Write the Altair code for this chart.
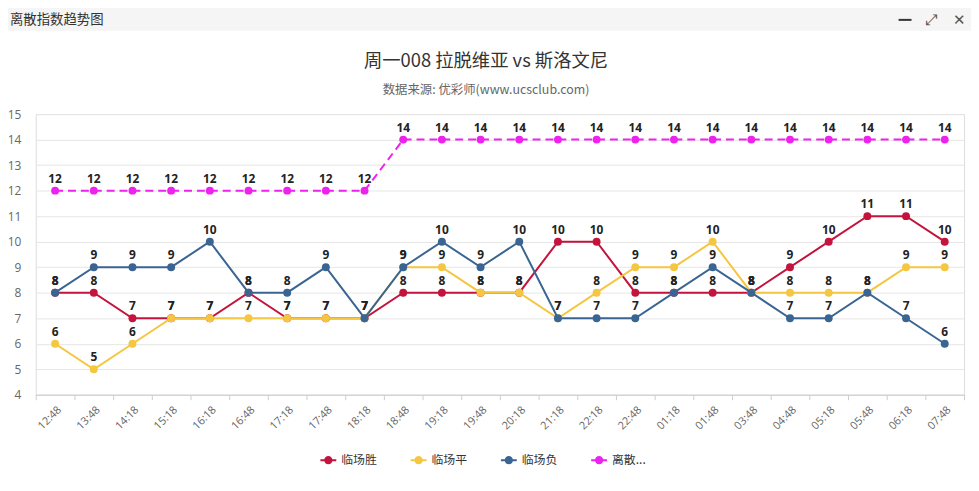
import altair as alt
import pandas as pd

times = ["12:48", "13:48", "14:18", "15:18", "16:18", "16:48", "17:18", "17:48",
         "18:18", "18:48", "19:18", "19:48", "20:18", "21:18", "22:18", "22:48",
         "01:18", "01:48", "03:48", "04:48", "05:18", "05:48", "06:18", "07:48"]
win = [8, 8, 7, 7, 7, 8, 7, 7, 7, 8, 8, 8, 8, 10, 10, 8, 8, 8, 8, 9, 10, 11, 11, 10]
draw = [6, 5, 6, 7, 7, 7, 7, 7, 7, 9, 9, 8, 8, 7, 8, 9, 9, 10, 8, 8, 8, 8, 9, 9]
lose = [8, 9, 9, 9, 10, 8, 8, 9, 7, 9, 10, 9, 10, 7, 7, 7, 8, 9, 8, 7, 7, 8, 7, 6]
disp = [12, 12, 12, 12, 12, 12, 12, 12, 12, 14, 14, 14, 14, 14, 14, 14,
        14, 14, 14, 14, 14, 14, 14, 14]

series_names = ["临场胜", "临场平", "临场负", "离散指数"]
series_values = [win, draw, lose, disp]
colors = ["#c4143d", "#f5c640", "#3a6592", "#ee22ee"]

title_text = "周一008 拉脱维亚 vs 斯洛文尼"
subtitle_text = "数据来源: 优彩师(www.ucsclub.com)"
window_title = "离散指数趋势图"

rows = []
for name, vals in zip(series_names, series_values):
    for t, v in zip(times, vals):
        rows.append({"series": name, "time": t, "value": v})
df = pd.DataFrame(rows)

FONT = "Noto Sans CJK SC"
legend_path = ("M-1,-0.13L1,-0.13L1,0.13L-1,0.13Z "
               "M0.52,0A0.52,0.52,0,1,1,-0.52,0A0.52,0.52,0,1,1,0.52,0Z")

color_scale = alt.Scale(domain=series_names, range=colors)

x_enc = alt.X("time:N", sort=times, bandPosition=0.5,
              scale=alt.Scale(type="band", paddingInner=0, paddingOuter=0),
              axis=alt.Axis(title=None, labelAngle=-45, tickBand="extent",
                            labelColor="#666", labelFontSize=11, labelFont="Open Sans",
                            tickColor="#ccc", domainColor="#ccc", tickSize=5,
                            grid=False, labelPadding=4))
y_enc = alt.Y("value:Q", scale=alt.Scale(domain=[4, 15], nice=False, zero=False),
              axis=alt.Axis(title=None, values=list(range(4, 16)), domain=False,
                            ticks=False, labelColor="#666", labelFontSize=12,
                            labelFont="Open Sans", labelPadding=15,
                            gridColor="#e6e6e6"))

base = alt.Chart(df)
layers = []
for i, name in enumerate(series_names):
    sub = base.transform_filter(alt.datum.series == name)
    line_kwargs = dict(strokeWidth=2)
    if name == "离散指数":
        line_kwargs["strokeDash"] = [8, 5]
    if i == 0:
        col = alt.Color("series:N", scale=color_scale,
                        legend=alt.Legend(orient="none", legendX=287, legendY=341,
                                          direction="horizontal", title=None,
                                          symbolType=legend_path, symbolSize=256,
                                          symbolStrokeWidth=0, labelFont=FONT,
                                          labelFontSize=12, labelColor="#333",
                                          labelLimit=200, columnPadding=33,
                                          labelOffset=5,
                                          labelExpr="datum.label == '离散指数' ? '离散...' : datum.label"))
    else:
        col = alt.Color("series:N", scale=color_scale, legend=None)
    layers.append(sub.mark_line(**line_kwargs).encode(x=x_enc, y=y_enc, color=col))
    layers.append(sub.mark_circle(size=64, opacity=1).encode(x=x_enc, y=y_enc, color=col))

labels = base.mark_text(dy=-12, fontWeight="bold", fontSize=12, color="#222",
                        font="Open Sans").encode(x=x_enc, y=y_enc, text="value:Q")
layers.append(labels)

deco = alt.Chart(pd.DataFrame({"a": [0]}))
bar = deco.mark_rect(color="#f5f5f5").encode(
    x=alt.value(-36), x2=alt.value(950), y=alt.value(-113), y2=alt.value(-84))
bar_title = deco.mark_text(align="left", baseline="middle", fontSize=13.5,
                           color="#333", font=FONT).encode(
    x=alt.value(-26), y=alt.value(-95), text=alt.value(window_title))
icon1 = deco.mark_rule(color="#333", strokeWidth=2).encode(
    x=alt.value(870), x2=alt.value(883), y=alt.value(-95))
icon2 = deco.mark_text(baseline="middle", fontSize=15, color="#555",
                       font="DejaVu Sans").encode(
    x=alt.value(903), y=alt.value(-95), text=alt.value("⤢"))
icon3 = deco.mark_text(baseline="middle", fontSize=15, color="#555",
                       font="DejaVu Sans").encode(
    x=alt.value(931), y=alt.value(-95), text=alt.value("✕"))
title_mark = deco.mark_text(baseline="middle", fontSize=18.5, color="#333",
                            font=FONT).encode(
    x=alt.value(454), y=alt.value(-53), text=alt.value(title_text))
subtitle_mark = deco.mark_text(baseline="middle", fontSize=12.5, color="#666",
                               font=FONT).encode(
    x=alt.value(454), y=alt.value(-24), text=alt.value(subtitle_text))

chart = alt.layer(bar, bar_title, icon1, icon2, icon3, title_mark, subtitle_mark,
                  *layers).properties(
    width=936, height=283,
    padding={"left": 28, "top": 105, "right": 7, "bottom": 87},
    autosize=alt.AutoSizeParams(type="none"),
).configure_view(stroke=None).configure(background="white")

chart.save("out.html", embed_options={"renderer": "svg", "actions": False})
